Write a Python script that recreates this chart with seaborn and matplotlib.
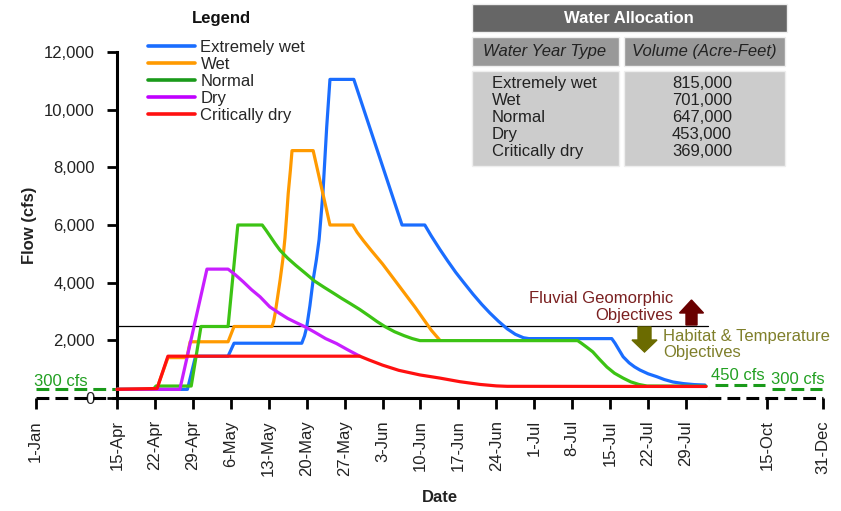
import numpy as np
import matplotlib
matplotlib.use("Agg")
import matplotlib.pyplot as plt
import matplotlib.patches as mpatches
from matplotlib.lines import Line2D
from matplotlib.transforms import IdentityTransform
import seaborn as sns

# x values are days after 15-Apr, y values are flow in cfs
wet_x_days = [0, 13, 14.5, 20.5, 21.6, 34.1, 34.6, 35, 35.6, 36.2, 36.8, 37.3, 38, 38.7, 39.3, 43.7, 52.6,
              56.8, 58, 59.6, 61, 62.5, 64, 65.7, 67.3, 68.8, 70.4, 72, 73.5, 75, 76,
              91.3, 91.9, 92.6, 93.4, 94.5, 95.5, 96.5, 98, 99.6, 101, 102.6, 104.5, 106.5, 108.5]
wet_x_cfs = [300, 300, 1450, 1450, 1900, 1900, 2150, 2450, 3200, 4100, 4800, 5500, 7100, 9400, 11050, 11050, 6000,
             6000, 5620, 5150, 4760, 4360, 4000, 3600, 3250, 2950, 2660, 2400, 2210, 2090, 2060,
             2060, 1900, 1680, 1430, 1220, 1080, 970, 840, 740, 640, 555, 500, 465, 450]

wet_days = [0, 7.3, 9.4, 12.9, 13.5, 20.5, 21.6, 28.6, 28.9, 29.2, 29.6, 30.1, 30.6, 31, 31.3, 31.6, 32, 32.3,
            36.2, 39.3, 43.5, 44.3, 45.5, 47, 49, 51, 53, 55, 56.5, 58, 59.6]
wet_cfs = [300, 300, 1400, 1400, 1950, 1950, 2480, 2480, 2650, 2950, 3450, 4090, 4800, 5550, 6300, 7100, 7900, 8580,
           8580, 6000, 6000, 5750, 5450, 5100, 4650, 4150, 3650, 3150, 2750, 2350, 2000]

normal_days = [0, 6.7, 7.2, 13.7, 15.5, 20.5, 22.3, 26.8, 27.5, 28.3, 29.2, 30.1, 31.5, 33, 34.8, 36.5, 38.3,
               40, 41.5, 43, 44.8, 46.5, 48, 49.5, 51.2, 53, 54.5, 55.9, 85, 85.7, 86.7, 87.8, 89, 90.4,
               91.8, 93.4, 94.8, 96.3, 97.8, 108.7]
normal_cfs = [300, 300, 415, 415, 2480, 2480, 6000, 6000, 5820, 5600, 5350, 5120, 4850, 4600, 4320, 4050, 3830,
              3630, 3450, 3280, 3070, 2850, 2650, 2470, 2300, 2160, 2060, 1990, 1990, 1900, 1760, 1600, 1350, 1075,
              860, 690, 560, 470, 415, 410]

dry_days = [0, 11.6, 16.6, 20.5, 21.8, 23.3, 24.8, 26.4, 28.2, 29.8, 31.5, 33, 34.7, 36.5, 38.5, 40.5, 42.5, 44.8]
dry_cfs = [300, 300, 4470, 4470, 4280, 4030, 3760, 3510, 3160, 2960, 2760, 2620, 2470, 2280, 2060, 1890, 1680, 1450]

crit_days = [0, 7.4, 9.4, 44.8, 46.5, 49, 52, 55.9, 59.6, 63.3, 67, 70, 72, 108.7]
crit_cfs = [300, 330, 1450, 1450, 1320, 1140, 960, 800, 690, 565, 470, 420, 405, 400]

year_types = ["Extremely wet", "Wet", "Normal", "Dry", "Critically dry"]
volumes = ["815,000", "701,000", "647,000", "453,000", "369,000"]
line_colors = ["#1a6dff", "#ff9a00", "#3cc314", "#c81eff", "#ff1010"]
legend_colors = ["#1a6dff", "#ff9a00", "#1a9a1a", "#c000ff", "#ff1010"]

# outside the spring pulse period
base_left_days = [-15, 0]
base_left_cfs = [300, 300]
base_fall_days = [110.4, 119.6]
base_fall_cfs = [450, 450]
base_winter_days = [120.9, 130.1]
base_winter_cfs = [300, 300]

tick_days = [-15, 0, 7, 14, 21, 28, 35, 42, 49, 56, 63, 70, 77, 84, 91, 98, 105, 120, 130.3]
tick_labels = ["1-Jan", "15-Apr", "22-Apr", "29-Apr", "6-May", "13-May", "20-May", "27-May", "3-Jun",
               "10-Jun", "17-Jun", "24-Jun", "1-Jul", "8-Jul", "15-Jul", "22-Jul", "29-Jul", "15-Oct", "31-Dec"]

threshold = 2500

sns.set_theme(style="white")
plt.rcParams['font.family'] = ['Liberation Sans', 'DejaVu Sans']

W, H = 841, 511
fig = plt.figure(figsize=(W / 100, H / 100), dpi=100)
ax = fig.add_axes([30 / W, 1 - 398 / H, 800 / W, 346 / H])
ax.set_xlim(-16.05, 131.57)
ax.set_ylim(0, 12000)

series = [(wet_x_days, wet_x_cfs), (wet_days, wet_cfs), (normal_days, normal_cfs),
          (dry_days, dry_cfs), (crit_days, crit_cfs)]
for (xd, yd), col in zip(series, line_colors):
    sns.lineplot(x=xd, y=yd, color=col, linewidth=2.3, ax=ax, sort=False, estimator=None,
                 legend=False, clip_on=False, zorder=3)

# objective threshold line
ax.plot([0, 109], [threshold, threshold], color='black', lw=0.9, zorder=2)

# baseline flows (green dashed)
dash = (0, (4.2, 2.0))
for xd, yd in [(base_left_days, base_left_cfs), (base_fall_days, base_fall_cfs),
               (base_winter_days, base_winter_cfs)]:
    sns.lineplot(x=xd, y=yd, color='#1a9a1a', linewidth=2.2, ax=ax, estimator=None,
                 legend=False, clip_on=False)
    ax.lines[-1].set_linestyle(dash)

# broken x axis pieces
ax.plot([-15, 0], [0, 0], color='black', lw=2.2, ls=dash, clip_on=False, zorder=2)
ax.plot([109, 130.3], [0, 0], color='black', lw=2.2, ls=dash, clip_on=False, zorder=2)

for side in ['top', 'right']:
    ax.spines[side].set_visible(False)
ax.spines['left'].set_position(('data', 0))
ax.spines['left'].set_bounds(0, 12000)
ax.spines['bottom'].set_bounds(0, 109)
for side in ['left', 'bottom']:
    ax.spines[side].set_linewidth(2.2)
    ax.spines[side].set_color('black')

ax.set_yticks(np.arange(0, 12001, 2000))
ax.set_yticklabels([f"{v:,}" for v in range(0, 12001, 2000)])
ax.set_xticks(tick_days)
ax.set_xticklabels(tick_labels, rotation=90)
ax.tick_params(axis='y', direction='out', length=7, width=2, pad=9, labelsize=12, colors='black',
               labelcolor='#222222', left=True)
ax.tick_params(axis='x', direction='out', length=8, width=2, pad=8, labelsize=12, colors='black',
               labelcolor='#222222', bottom=True)
ax.grid(False)
zero_lab = ax.yaxis.get_major_ticks()[0].label1
zero_lab.set_bbox(dict(facecolor='white', edgecolor='none', pad=1))

ax.set_ylabel("Flow (cfs)", fontsize=12, fontweight='bold', color='#222222')
ax.yaxis.set_label_coords(0.0085, 0.5)
ax.set_xlabel("Date", fontsize=12, fontweight='bold', color='#222222')
ax.xaxis.set_label_coords(0.5125, -0.265)

# legend
handles = [Line2D([], [], color=c, lw=2.6) for c in legend_colors]
fig.legend(handles, year_types, loc='upper left', bbox_to_anchor=(148 / W, 1 - 40 / H),
           bbox_transform=fig.transFigure, frameon=False, fontsize=12, handlelength=2.8,
           handletextpad=0.35, labelspacing=0.12, borderpad=0, borderaxespad=0)
fig.text(221 / W, 1 - 18 / H, "Legend", fontsize=12, fontweight='bold', ha='center', va='center',
         color='#111111')

# allocation table
def box(x0, y0, x1, y1, fc):
    fig.patches.append(mpatches.Rectangle((x0, H - y1), x1 - x0, y1 - y0, facecolor=fc,
                                          edgecolor='#eeeeee', lw=1, transform=IdentityTransform()))

box(472, 4, 787, 32, '#666666')
box(472, 37, 619, 66, '#999999')
box(624, 37, 785, 66, '#999999')
box(472, 71, 619, 166, '#cccccc')
box(624, 71, 785, 166, '#cccccc')
fig.text(629 / W, 1 - 18.5 / H, "Water Allocation", fontsize=12, fontweight='bold', color='white',
         ha='center', va='center')
fig.text(545 / W, 1 - 51 / H, "Water Year Type", fontsize=12, style='italic', color='#222222',
         ha='center', va='center')
fig.text(704 / W, 1 - 51 / H, "Volume (Acre-Feet)", fontsize=12, style='italic', color='#222222',
         ha='center', va='center')
for i, (t, v) in enumerate(zip(year_types, volumes)):
    yy = 1 - (83.5 + i * 17.1) / H
    fig.text(492 / W, yy, t, fontsize=12, color='#222222', ha='left', va='center')
    fig.text(702 / W, yy, v, fontsize=12, color='#222222', ha='center', va='center')

# objective annotations
fig.text(673 / W, 1 - 298 / H, "Fluvial Geomorphic", fontsize=12, color='#7a2020', ha='right', va='center')
fig.text(673 / W, 1 - 315 / H, "Objectives", fontsize=12, color='#7a2020', ha='right', va='center')
fig.text(663 / W, 1 - 336 / H, "Habitat & Temperature", fontsize=12, color='#7f7f2a', ha='left', va='center')
fig.text(663 / W, 1 - 352 / H, "Objectives", fontsize=12, color='#7f7f2a', ha='left', va='center')
fig.patches.append(mpatches.FancyArrow(691.5, H - 325, 0, 25, width=11, head_width=24, head_length=13,
                                       length_includes_head=True, color='#690000',
                                       transform=IdentityTransform()))
fig.patches.append(mpatches.FancyArrow(644.5, H - 327, 0, -25, width=13, head_width=25, head_length=12,
                                       length_includes_head=True, color='#6b6b00',
                                       transform=IdentityTransform()))

# baseline labels
fig.text(61 / W, 1 - 382 / H, "300 cfs", fontsize=12, color='#22a022', ha='center', va='center')
fig.text(738 / W, 1 - 375 / H, "450 cfs", fontsize=12, color='#22a022', ha='center', va='center')
fig.text(798 / W, 1 - 380 / H, "300 cfs", fontsize=12, color='#22a022', ha='center', va='center')

fig.savefig("out.png", dpi=100)
